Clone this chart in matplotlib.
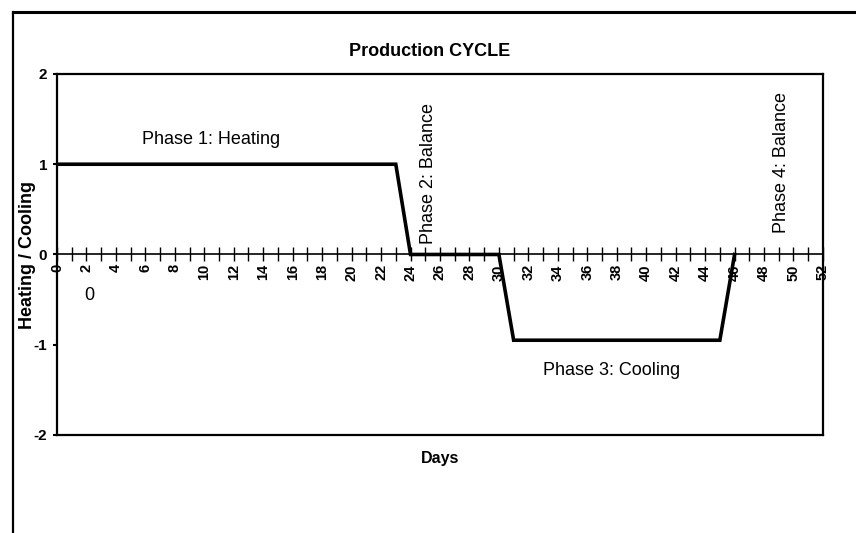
#!/usr/bin/env python3
import matplotlib
matplotlib.use('Agg')
import matplotlib.pyplot as plt
from matplotlib.lines import Line2D

plt.rcParams['font.family'] = ['Liberation Sans', 'DejaVu Sans']

# heating/cooling schedule over the production cycle
days = [0, 23, 24, 30, 31, 45, 46]
level = [1, 1, 0, 0, -0.95, -0.95, 0]

day_ticks = list(range(0, 53))
day_labels = [str(d) if d % 2 == 0 else '' for d in day_ticks]
level_ticks = [2, 1, 0, -1, -2]
level_labels = ['2', '1', '0', '-1', '-2']

phase_notes = [
    ("Phase 1: Heating", 5.8, 1.27, 0),
    ("Phase 2: Balance", 25.2, 0.12, 90),
    ("Phase 3: Cooling", 33.0, -1.29, 0),
    ("Phase 4: Balance", 49.2, 0.24, 90),
]

fig = plt.figure(figsize=(8.56, 5.33), dpi=100, facecolor='w')
ax = fig.add_axes([0.0666, 0.1839, 0.8948, 0.6773])

ax.plot(days, level, color='black', lw=2.6, solid_joinstyle='miter', zorder=3)

ax.set_xlim(0, 52)
ax.set_ylim(-2, 2)

# x axis runs through zero, box stays closed at the bottom
ax.spines['bottom'].set_position(('data', 0))
ax.spines['bottom'].set_linewidth(1.2)
for s in ['left', 'right', 'top']:
    ax.spines[s].set_linewidth(1.6)
ax.add_line(Line2D([0, 52], [-2, -2], color='black', lw=1.6, clip_on=False))

ax.set_xticks(day_ticks)
ax.set_xticklabels(day_labels, rotation=90, fontsize=10.5, fontweight='bold')
ax.tick_params(axis='x', direction='inout', length=10, width=1.0, pad=2)
ax.set_yticks(level_ticks)
ax.set_yticklabels(level_labels, fontsize=11, fontweight='bold')
ax.tick_params(axis='y', direction='out', length=3, width=1.5, pad=4)

for txt, x, y, rot in phase_notes:
    if rot:
        ax.text(x, y, txt, rotation=90, ha='center', va='bottom', fontsize=13)
    else:
        ax.text(x, y, txt, ha='left', va='center', fontsize=13)
ax.text(2.2, -0.45, '0', ha='center', va='center', fontsize=13)

fig.text(430 / 856, 1 - 51 / 533, 'Production CYCLE', ha='center', va='center',
         fontsize=13, fontweight='bold')
fig.text(440 / 856, 1 - 458 / 533, 'Days', ha='center', va='center',
         fontsize=11.5, fontweight='bold')
fig.text(28 / 856, 1 - 255 / 533, 'Heating / Cooling', ha='center', va='center',
         rotation=90, fontsize=13, fontweight='bold')

# page frame
fig.add_artist(Line2D([13 / 856, 13 / 856], [0, 1 - 12 / 533], color='black',
                      lw=1.6, transform=fig.transFigure))
fig.add_artist(Line2D([13 / 856, 1], [1 - 12 / 533, 1 - 12 / 533], color='black',
                      lw=2.2, transform=fig.transFigure))

fig.savefig('out.png', dpi=100)
